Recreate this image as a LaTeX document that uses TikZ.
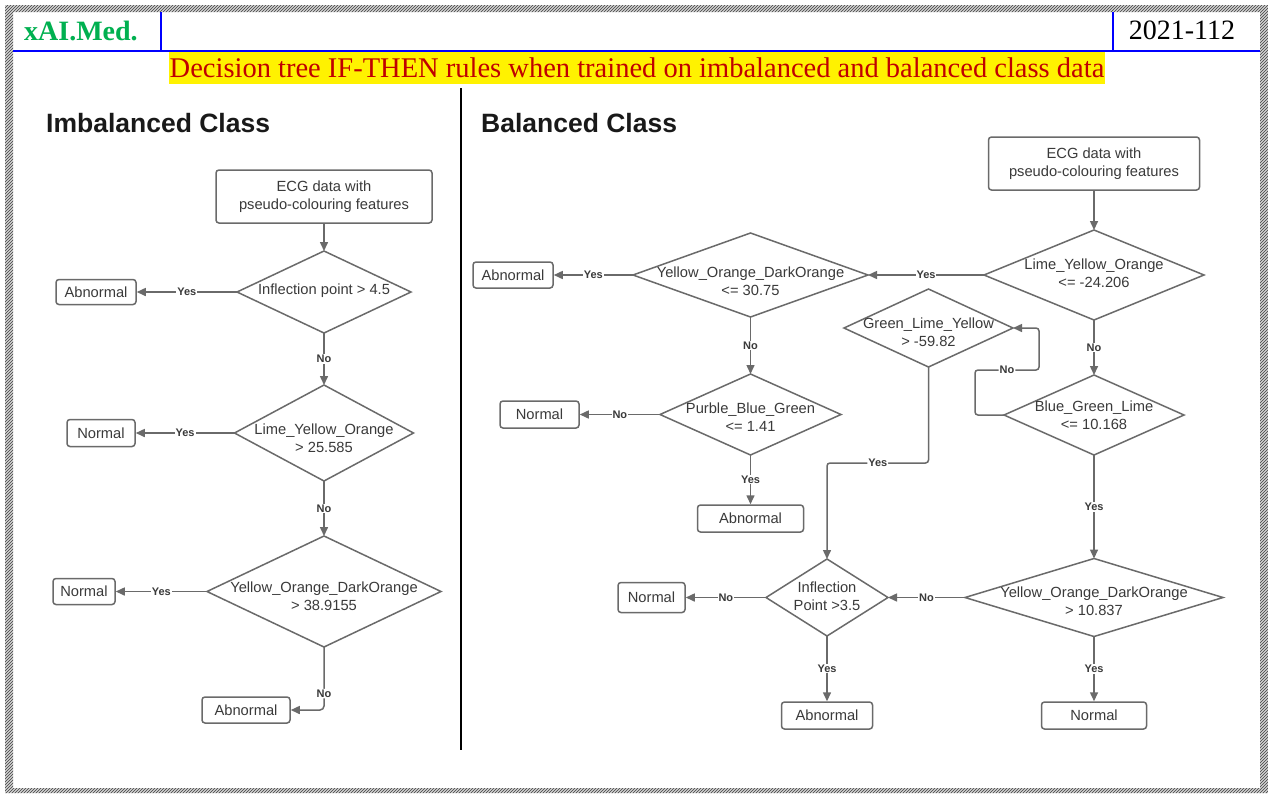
\documentclass[tikz,border=0pt]{standalone}
\usepackage{fontspec}
\setmainfont{Liberation Serif}
\newfontfamily\flowfont{Liberation Sans}
\usetikzlibrary{shapes.geometric,arrows.meta,patterns}
\definecolor{flowline}{HTML}{6A6A6A}
\definecolor{flowtext}{HTML}{3A3A3A}
\definecolor{brandgreen}{HTML}{00B050}
\definecolor{titlered}{HTML}{C00000}
\definecolor{rulerblue}{HTML}{0000FF}

\begin{document}
\begin{tikzpicture}[x=1pt,y=-1pt,
  box/.style={draw=flowline, line width=1.5pt, rounded corners=3pt, inner sep=0pt,
    text=flowtext, font=\flowfont\fontsize{14.7}{18}\selectfont, align=center},
  dia/.style={draw=flowline, line width=1.5pt, diamond, inner sep=0pt, outer sep=0pt},
  dtext/.style={text=flowtext, font=\flowfont\fontsize{14.7}{18}\selectfont, align=center, inner sep=0pt},
  flow/.style={draw=flowline, line width=1.5pt, -{Triangle[length=9pt,width=8pt]}},
  lbl/.style={fill=white, text=flowtext, font=\flowfont\bfseries\fontsize{11}{12}\selectfont, inner sep=1pt},
  heading/.style={anchor=base west, inner sep=0pt, text=black!90, font=\flowfont\bfseries\fontsize{26.5}{30}\selectfont},
]
\useasboundingbox (0,0) rectangle (1268,793);
\fill[white] (0,0) rectangle (1268,793);

% hatched page frame
\fill[gray!35, even odd rule] (5,5) rectangle (1268,793) (13,12) rectangle (1260,788);
\fill[pattern=north east lines, pattern color=black!75, even odd rule]
  (5,5) rectangle (1268,793) (13,12) rectangle (1260,788);

% header rules
\draw[rulerblue, line width=2pt] (13,51) -- (1260,51);
\draw[rulerblue, line width=2pt] (161,12) -- (161,51);
\draw[rulerblue, line width=2pt] (1113,12) -- (1113,51);

\node[anchor=base west, inner sep=0pt, text=brandgreen, font=\bfseries\fontsize{28}{30}\selectfont] (brand) at (24,40) {xAI.Med.};
\node[anchor=base, inner sep=0pt, font=\fontsize{28}{30}\selectfont] (docid) at (1182,39) {2021-112};
\node[fill=yellow, text=titlered, inner sep=0pt, minimum width=936, minimum height=32,
  font=\fontsize{28.5}{30}\selectfont] (title) at (637,68)
  {Decision tree IF-THEN rules when trained on imbalanced and balanced class data};

% section headings and divider
\node[heading] (hImb) at (46,132) {Imbalanced Class};
\node[heading] (hBal) at (481,132) {Balanced Class};
\draw[black, line width=1.8pt] (461,88) -- (461,750);

% ---------- imbalanced class tree ----------
\node[box, minimum width=216, minimum height=53] (ecgL) at (324,196.5) {ECG data with\\pseudo-colouring features};

\node[dia, minimum width=174, minimum height=82] (dL1) at (324,292) {};
\node[dtext] (dL1t) at (324,291) {Inflection point > 4.5};
\node[box, minimum width=80, minimum height=25] (abnL1) at (96,292) {Abnormal};

\node[dia, minimum width=179, minimum height=96] (dL2) at (324,433) {};
\node[dtext] (dL2t) at (324,438) {Lime\_Yellow\_Orange\\> 25.585};
\node[box, minimum width=68, minimum height=27] (norL2) at (101,433) {Normal};

\node[dia, minimum width=234, minimum height=111] (dL3) at (324,591.5) {};
\node[dtext] (dL3t) at (324,596) {Yellow\_Orange\_DarkOrange\\> 38.9155};
\node[box, minimum width=62, minimum height=26] (norL3) at (84,591.5) {Normal};
\node[box, minimum width=88, minimum height=26] (abnL3) at (246,710) {Abnormal};

\draw[flow] (ecgL.south) -- (dL1.north);
\draw[flow] (dL1.west) -- node[lbl]{Yes} (abnL1.east);
\draw[flow] (dL1.south) -- node[lbl]{No} (dL2.north);
\draw[flow] (dL2.west) -- node[lbl]{Yes} (norL2.east);
\draw[flow] (dL2.south) -- node[lbl]{No} (dL3.north);
\draw[flow] (dL3.west) -- node[lbl]{Yes} (norL3.east);
\draw[flow, rounded corners=4pt] (dL3.south) |- node[lbl, pos=0.37]{No} (abnL3.east);

% ---------- balanced class tree ----------
\node[box, minimum width=211, minimum height=53] (ecgR) at (1094,163.5) {ECG data with\\pseudo-colouring features};

\node[dia, minimum width=220, minimum height=90] (dA) at (1094,275) {};
\node[dtext] (dAt) at (1094,273) {Lime\_Yellow\_Orange\\<= -24.206};

\node[dia, minimum width=235, minimum height=84] (dB) at (750.5,275) {};
\node[dtext] (dBt) at (750.5,281) {Yellow\_Orange\_DarkOrange\\<= 30.75};
\node[box, minimum width=80, minimum height=26] (abnB) at (513,275) {Abnormal};

\node[dia, minimum width=181, minimum height=81] (dC) at (750.5,414.5) {};
\node[dtext] (dCt) at (750.5,417) {Purble\_Blue\_Green\\<= 1.41};
\node[box, minimum width=79, minimum height=27] (norC) at (539.5,414.5) {Normal};
\node[box, minimum width=106, minimum height=27] (abnC) at (750.5,518.5) {Abnormal};

\node[dia, minimum width=180, minimum height=80] (dD) at (1094,415) {};
\node[dtext] (dDt) at (1094,415.5) {Blue\_Green\_Lime\\<= 10.168};

\node[dia, minimum width=169, minimum height=78] (dE) at (928.5,328) {};
\node[dtext] (dEt) at (928.5,332) {Green\_Lime\_Yellow\\> -59.82};

\node[dia, minimum width=122, minimum height=77] (dI) at (827,597.5) {};
\node[dtext] (dIt) at (827,596) {Inflection\\Point >3.5};
\node[box, minimum width=67, minimum height=30] (norI) at (651.5,597.5) {Normal};
\node[box, minimum width=91, minimum height=27] (abnI) at (827,715.5) {Abnormal};

\node[dia, minimum width=258, minimum height=78] (dF) at (1094,597.5) {};
\node[dtext] (dFt) at (1094,601) {Yellow\_Orange\_DarkOrange\\> 10.837};
\node[box, minimum width=105, minimum height=27] (norF) at (1094,715.5) {Normal};

% routing points of the bent connectors
\coordinate (loopA) at (975,370);
\coordinate (loopB) at (1039,370);
\coordinate (eTurn) at (827,463);

\draw[flow] (ecgR.south) -- (dA.north);
\draw[flow] (dA.west) -- node[lbl]{Yes} (dB.east);
\draw[flow] (dB.west) -- node[lbl]{Yes} (abnB.east);
\draw[flow] (dB.south) -- node[lbl]{No} (dC.north);
\draw[flow] (dC.west) -- node[lbl]{No} (norC.east);
\draw[flow] (dC.south) -- node[lbl]{Yes} (abnC.north);
\draw[flow] (dA.south) -- node[lbl]{No} (dD.north);
\draw[flow, rounded corners=3pt] (dD.west) -| (loopA) -- node[lbl]{No} (loopB) |- (dE.east);
\draw[flow, rounded corners=3pt] (dE.south) |- node[lbl, pos=0.75]{Yes} (eTurn) -- (dI.north);
\draw[flow] (dD.south) -- node[lbl]{Yes} (dF.north);
\draw[flow] (dF.west) -- node[lbl]{No} (dI.east);
\draw[flow] (dI.west) -- node[lbl]{No} (norI.east);
\draw[flow] (dI.south) -- node[lbl]{Yes} (abnI.north);
\draw[flow] (dF.south) -- node[lbl]{Yes} (norF.north);
\end{tikzpicture}
\end{document}
